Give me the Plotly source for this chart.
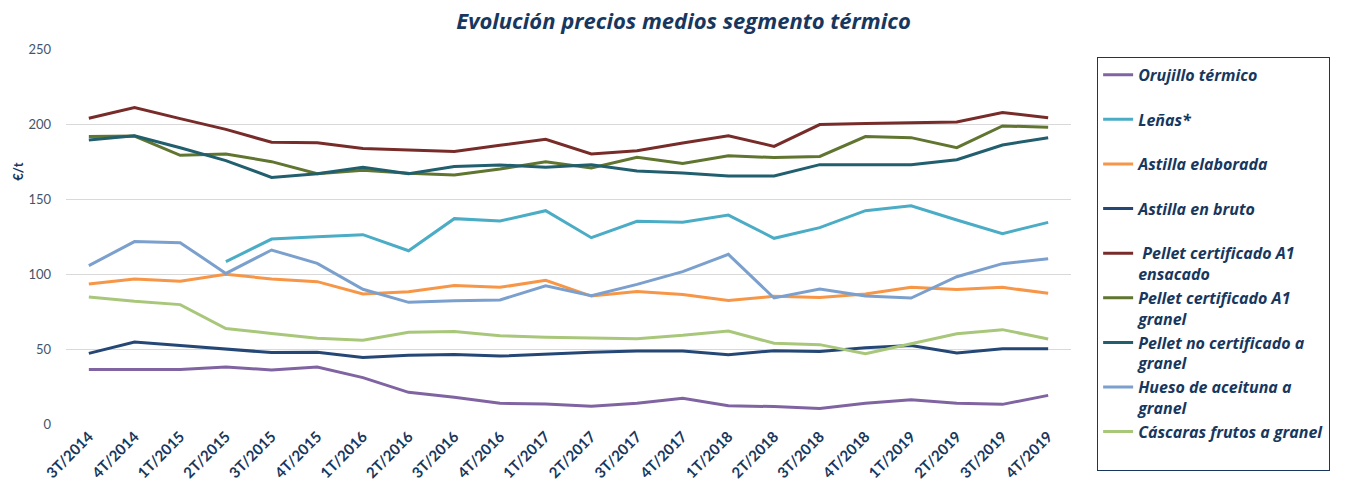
import plotly.graph_objects as go

categories = ["3T/2014", "4T/2014", "1T/2015", "2T/2015", "3T/2015", "4T/2015",
              "1T/2016", "2T/2016", "3T/2016", "4T/2016", "1T/2017", "2T/2017",
              "3T/2017", "4T/2017", "1T/2018", "2T/2018", "3T/2018", "4T/2018",
              "1T/2019", "2T/2019", "3T/2019", "4T/2019"]

orujillo = [36.4, 36.4, 36.4, 38.0, 36.0, 38.0, 30.9, 21.1, 17.8, 13.8, 13.3, 11.8,
            13.8, 17.1, 12.2, 11.6, 10.4, 13.8, 16.2, 13.8, 13.1, 19.1]
lenas = [None, None, None, 108.2, 123.3, 124.9, 126.2, 115.5, 136.9, 135.3, 142.2, 124.2,
         135.1, 134.5, 139.3, 123.8, 130.9, 142.2, 145.5, 136.0, 126.9, 134.4]
astilla_elab = [93.3, 96.7, 95.1, 99.8, 96.7, 94.9, 86.7, 88.2, 92.4, 91.1, 95.8, 85.3,
                88.4, 86.4, 82.4, 85.1, 84.4, 86.7, 91.1, 89.6, 91.1, 87.1]
astilla_bruto = [47.1, 54.7, 52.4, 50.2, 47.6, 47.8, 44.4, 45.8, 46.4, 45.3, 46.7, 47.8,
                 48.7, 48.7, 46.2, 48.9, 48.4, 50.9, 52.4, 47.3, 50.2, 50.2]
pellet_ensacado = [203.8, 210.9, 203.6, 196.4, 187.8, 187.5, 183.6, 182.4, 181.6, 185.8,
                   189.8, 180.0, 182.2, 187.3, 192.2, 185.1, 199.6, 200.3, 200.7, 201.3,
                   207.6, 204.2]
pellet_granel = [191.6, 192.0, 179.1, 180.0, 174.9, 166.9, 169.1, 167.1, 166.0, 170.0,
                 174.9, 170.7, 177.8, 173.6, 178.9, 177.6, 178.4, 191.6, 190.9, 184.2,
                 198.7, 197.8]
pellet_no_cert = [189.3, 192.2, 184.2, 175.6, 164.4, 166.9, 171.1, 166.9, 171.6, 172.7,
                  171.1, 172.9, 168.7, 167.3, 165.3, 165.3, 172.9, 173.1, 172.9, 176.2,
                  186.0, 190.9]
hueso = [105.6, 121.6, 120.9, 100.4, 116.0, 107.1, 89.8, 81.1, 82.2, 82.7, 92.2, 85.6,
         93.1, 101.6, 113.1, 84.0, 90.0, 85.3, 84.0, 98.2, 106.9, 110.2]
cascaras = [84.7, 81.8, 79.6, 63.6, 60.4, 57.1, 55.8, 61.1, 61.6, 58.9, 57.8, 57.1,
            56.9, 59.1, 62.0, 53.8, 52.9, 46.9, 53.3, 60.2, 62.9, 56.7]

series_names = ["Orujillo térmico<br> ", "Leñas*<br> ", "Astilla elaborada<br> ",
                "Astilla en bruto<br> ", " Pellet certificado A1<br>ensacado",
                "Pellet certificado A1<br>granel", "Pellet no certificado a<br>granel",
                "Hueso de aceituna a<br>granel", "Cáscaras frutos a granel<br> "]
series_values = [orujillo, lenas, astilla_elab, astilla_bruto, pellet_ensacado,
                 pellet_granel, pellet_no_cert, hueso, cascaras]
series_colors = ["#8064A2", "#4BACC6", "#F79646", "#254775", "#772C2A",
                 "#5F7530", "#215E6E", "#7BA0CD", "#A9C77A"]

FONT = "Lato, 'Open Sans', sans-serif"
WIDE = "'Open Sans', Lato, sans-serif"
NAVY = "#17375E"

fig = go.Figure()
for name, vals, col in zip(series_names, series_values, series_colors):
    fig.add_trace(go.Scatter(x=categories, y=vals, mode="lines", name=name,
                             line=dict(color=col, width=3), connectgaps=False))

fig.update_layout(
    width=1351, height=478,
    paper_bgcolor="white", plot_bgcolor="white",
    margin=dict(l=58, r=288, t=41, b=62, autoexpand=False),
    title=dict(text="Evolución precios medios segmento térmico",
               x=0.5, xref="container", xanchor="center",
               y=0.988, yref="container", yanchor="top",
               font=dict(family=WIDE, size=22, color=NAVY, weight="bold", style="italic")),
    xaxis=dict(type="category", tickangle=-45, showgrid=False, showline=False,
               ticks="", automargin=False,
               tickfont=dict(family=FONT, size=15, color=NAVY, weight="bold"),
               range=[-0.5, 21.5]),
    yaxis=dict(range=[0, 250], dtick=50, showgrid=True, gridcolor="#D9D9D9", gridwidth=1,
               zeroline=False, showline=False, ticks="", ticklabelstandoff=14,
               automargin=False,
               tickfont=dict(family=FONT, size=13, color="#44546A")),
    legend=dict(x=1.026, xanchor="left", y=0.979, yanchor="top",
                bordercolor=NAVY, borderwidth=1, bgcolor="white",
                valign="top", tracegroupgap=0, itemwidth=30, maxheight=430,
                font=dict(family=WIDE, size=16, color=NAVY, weight="bold", style="italic")),
    showlegend=True,
)

fig.add_annotation(text="€/t", xref="paper", yref="paper", x=-0.048, y=0.672,
                   xanchor="center", yanchor="middle",
                   showarrow=False, textangle=-90,
                   font=dict(family=FONT, size=13, color=NAVY, weight="bold"))

fig.write_html("out.html")
